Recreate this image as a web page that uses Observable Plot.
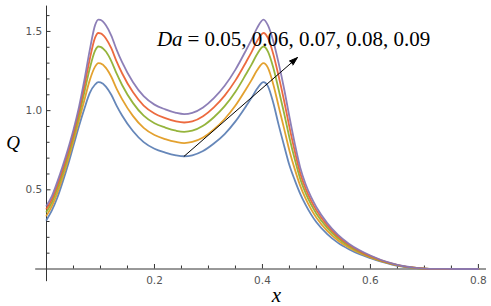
<!DOCTYPE html>
<html><head><meta charset="utf-8">
<script src="https://cdn.jsdelivr.net/npm/d3@7"></script>
<script src="https://cdn.jsdelivr.net/npm/@observablehq/plot@0.6"></script>
<style>html,body{margin:0;padding:0;background:#fff}</style>
</head><body><div id="chart"></div>
<script>
// x grid
const xs = [0, 0.01, 0.02, 0.03, 0.04, 0.05, 0.06, 0.07, 0.08, 0.09,
  0.096,
  0.10, 0.11, 0.12, 0.13, 0.14, 0.16, 0.18, 0.20, 0.22, 0.24,
  0.255, 0.27, 0.29, 0.31, 0.33, 0.35, 0.37, 0.38, 0.39,
  0.402,
  0.41, 0.42, 0.43, 0.44, 0.45, 0.46, 0.47, 0.48, 0.49, 0.50,
  0.52, 0.54, 0.56, 0.58, 0.60, 0.62, 0.64, 0.66, 0.68, 0.70, 0.72, 0.76, 0.80];

const daValues = ["0.05", "0.06", "0.07", "0.08", "0.09"];

const q005 = [0.31, 0.37, 0.45, 0.55, 0.66, 0.78, 0.90, 1.01, 1.11, 1.165,
  1.18,
  1.178, 1.152, 1.100, 1.030, 0.969, 0.871, 0.801, 0.759, 0.735, 0.718,
  0.712, 0.718, 0.745, 0.792, 0.852, 0.932, 1.030, 1.082, 1.138,
  1.18,
  1.155, 1.05, 0.91, 0.78, 0.655, 0.56, 0.475, 0.405, 0.345, 0.295,
  0.22, 0.165, 0.125, 0.093, 0.068, 0.046, 0.028, 0.015, 0.007, 0.002, 0, 0, 0];

const q006 = [0.337, 0.397, 0.48, 0.58, 0.69, 0.81, 0.936, 1.064, 1.191, 1.278,
  1.30,
  1.298, 1.270, 1.214, 1.138, 1.073, 0.967, 0.891, 0.846, 0.820, 0.802,
  0.795, 0.802, 0.830, 0.881, 0.947, 1.032, 1.138, 1.194, 1.255,
  1.30,
  1.271, 1.167, 1.027, 0.888, 0.747, 0.629, 0.525, 0.444, 0.378, 0.324,
  0.241, 0.18, 0.136, 0.101, 0.073, 0.049, 0.030, 0.016, 0.008, 0.002, 0, 0, 0];

const q007 = [0.361, 0.421, 0.507, 0.607, 0.717, 0.837, 0.968, 1.113, 1.264, 1.379,
  1.405,
  1.403, 1.373, 1.313, 1.233, 1.162, 1.049, 0.968, 0.920, 0.893, 0.873,
  0.866, 0.873, 0.904, 0.958, 1.028, 1.119, 1.233, 1.292, 1.356,
  1.405,
  1.374, 1.272, 1.132, 0.985, 0.829, 0.691, 0.569, 0.479, 0.408, 0.349,
  0.26, 0.194, 0.145, 0.107, 0.078, 0.052, 0.032, 0.017, 0.008, 0.003, 0.001, 0, 0];

const q008 = [0.381, 0.441, 0.529, 0.629, 0.739, 0.859, 0.995, 1.152, 1.323, 1.461,
  1.49,
  1.488, 1.456, 1.394, 1.309, 1.236, 1.117, 1.032, 0.982, 0.953, 0.932,
  0.925, 0.932, 0.965, 1.021, 1.095, 1.191, 1.309, 1.371, 1.439,
  1.49,
  1.459, 1.358, 1.218, 1.064, 0.896, 0.742, 0.605, 0.508, 0.432, 0.37,
  0.275, 0.205, 0.153, 0.113, 0.081, 0.055, 0.034, 0.018, 0.009, 0.003, 0.001, 0, 0];

const q009 = [0.40, 0.46, 0.55, 0.65, 0.76, 0.88, 1.02, 1.19, 1.38, 1.54,
  1.575,
  1.573, 1.539, 1.474, 1.384, 1.306, 1.181, 1.091, 1.038, 1.008, 0.986,
  0.978, 0.986, 1.020, 1.079, 1.157, 1.259, 1.384, 1.450, 1.521,
  1.575,
  1.54, 1.44, 1.30, 1.14, 0.96, 0.79, 0.64, 0.535, 0.455, 0.39,
  0.29, 0.215, 0.16, 0.118, 0.085, 0.057, 0.035, 0.019, 0.009, 0.003, 0.001, 0, 0];

const colors = ["#5E81B5", "#E19C24", "#8FB032", "#EB6235", "#8778B3"];

const xMajor = [0.2, 0.4, 0.6, 0.8];
const xMinor = [0.05, 0.1, 0.15, 0.25, 0.3, 0.35, 0.45, 0.5, 0.55, 0.65, 0.7, 0.75];
const yMajor = [0.5, 1.0, 1.5];
const yMinor = [0.1, 0.2, 0.3, 0.4, 0.6, 0.7, 0.8, 0.9, 1.1, 1.2, 1.3, 1.4, 1.6];

// annotation arrow end point (data units)
const arrowEnd = {x: 0.4648, q: 1.335};

const series = [q005, q006, q007, q008, q009];
const rows = series.flatMap((ys, i) => ys.map((q, j) => ({x: xs[j], q, da: daValues[i]})));

// arrow starts at the minimum of the lowest curve
const mid = rows.filter(d => d.da === daValues[0] && d.x > 0.15 && d.x < 0.35);
const minPt = d3.least(mid, d => d.q);
const arrowData = [{x1: minPt.x, y1: minPt.q, x2: arrowEnd.x, y2: arrowEnd.q}];

const axisColor = "#333";
const serif = "Liberation Serif, Times New Roman, serif";

const plot = Plot.plot({
  width: 491, height: 306,
  marginLeft: 46, marginRight: 5, marginTop: 5.6, marginBottom: 37.5,
  x: {domain: [0, 0.815], label: null},
  y: {domain: [0, 1.66], label: null},
  color: {domain: daValues, range: colors},
  style: {fontFamily: "DejaVu Sans, sans-serif", fontSize: "10.5px", color: "#444", background: "#fff", overflow: "visible"},
  marks: [
    Plot.axisX(xMinor, {tickSize: -3, tickFormat: () => "", label: null, stroke: axisColor}),
    Plot.axisX(xMajor, {tickSize: -4.5, tickPadding: 12, tickFormat: d => d.toFixed(1), label: null, stroke: axisColor, fill: "#555"}),
    Plot.axisY(yMinor, {tickSize: -3.5, tickFormat: () => "", label: null, stroke: axisColor}),
    Plot.axisY(yMajor, {tickSize: -4.5, tickPadding: 8.8, tickFormat: d => d.toFixed(1), label: null, stroke: axisColor, fill: "#555"}),
    Plot.ruleY([0], {x1: -0.02, x2: 0.815, stroke: axisColor, strokeWidth: 1}),
    Plot.ruleX([0], {y1: -0.08, y2: 1.66, stroke: axisColor, strokeWidth: 1}),
    Plot.line(rows, {x: "x", y: "q", z: "da", stroke: "da", strokeWidth: 1.8, curve: "monotone-x", strokeOpacity: 0.95}),
    Plot.arrow(arrowData, {x1: "x1", y1: "y1", x2: "x2", y2: "y2", stroke: "#000", fill: "#000", strokeWidth: 1, headLength: 13, headAngle: 36}),
    Plot.text(["Da"], {x: 0.2046, y: 1.411, textAnchor: "start", lineAnchor: "bottom", fontFamily: serif, fontStyle: "italic", fontSize: 21, fill: "#000"}),
    Plot.text(["= " + daValues.join(", ")], {x: 0.2611, y: 1.411, textAnchor: "start", lineAnchor: "bottom", fontFamily: serif, fontSize: 21, fill: "#000"}),
    Plot.text(["Q"], {frameAnchor: "top-left", dx: -33.5, dy: 142.4, textAnchor: "middle", lineAnchor: "bottom", fontFamily: serif, fontStyle: "italic", fontSize: 19, fill: "#000"}),
    Plot.text(["x"], {frameAnchor: "bottom-left", dx: 230, dy: 33.2, textAnchor: "middle", lineAnchor: "bottom", fontFamily: serif, fontStyle: "italic", fontSize: 21, fill: "#000"})
  ]
});
document.getElementById("chart").appendChild(plot);
</script>
</body></html>
